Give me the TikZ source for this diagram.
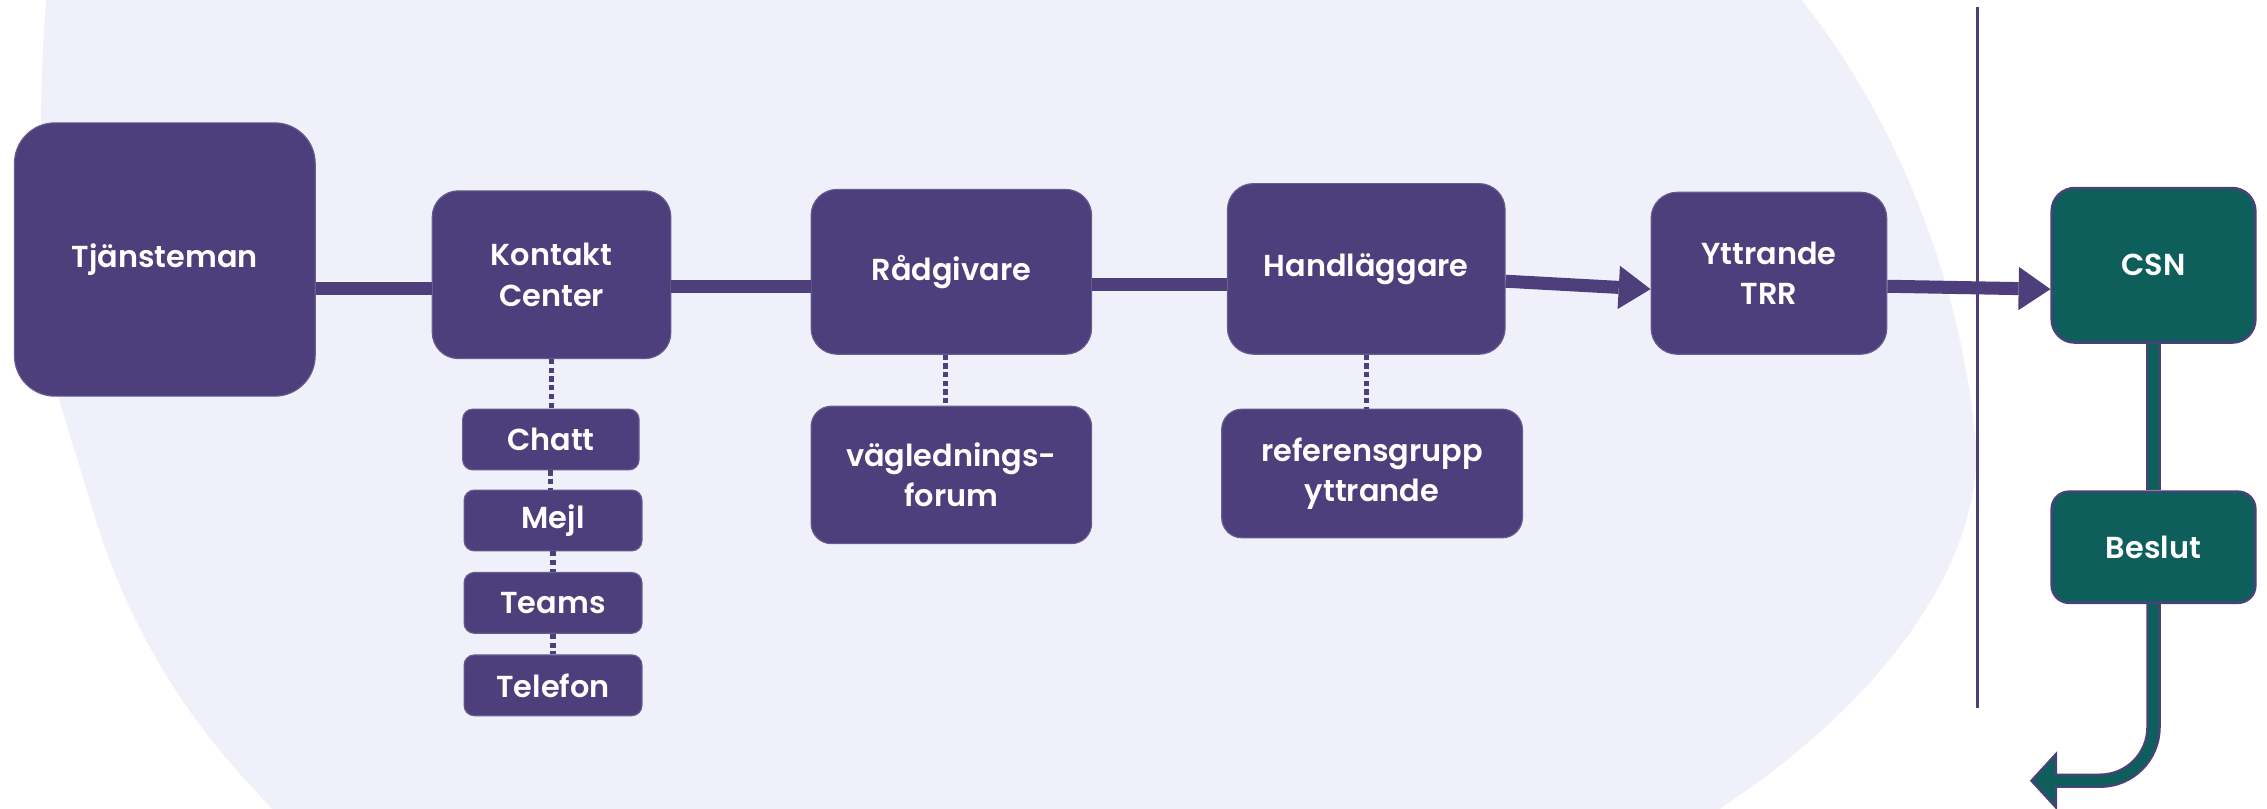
\documentclass[tikz,border=0pt]{standalone}
\usepackage{fontspec}
\setmainfont{Poppins SemiBold}
\usetikzlibrary{arrows.meta}
\definecolor{pur}{HTML}{4C3F7B}
\definecolor{blobc}{HTML}{F0F0FA}
\definecolor{grn}{HTML}{0E5F5B}
\begin{document}
\begin{tikzpicture}[x=1pt,y=-1pt,
  box/.style={fill=pur, draw=pur!85!white, line width=0.8pt, rounded corners=18pt,
    text=white, align=center, inner sep=0pt, font=\fontsize{21}{28}\selectfont},
  subbox/.style={box, rounded corners=7pt, minimum width=123pt, minimum height=42pt},
  gbox/.style={box, fill=grn, draw=pur, line width=1.6pt},
  conn/.style={draw=pur, line width=9pt},
  arr/.style={conn, -{Triangle[length=22pt,width=30pt,line width=0pt]}},
  dots/.style={draw=pur, line width=3.5pt, dash pattern=on 3.5pt off 2.5pt},
  gline/.style={draw=pur, line width=1.5pt, double=grn, double distance=7pt}
]
\useasboundingbox (0,0) rectangle (1568,559);
\clip (0,0) rectangle (1568,559);
% background blob
\fill[blobc] (32,-20) -- (32,0) .. controls (27,60) and (25,150) .. (41,277)
  -- (67,362) .. controls (95,450) and (140,510) .. (188,559)
  -- (188,600) -- (1190,600) -- (1190,559)
  .. controls (1310,480) and (1375,380) .. (1366,300)
  .. controls (1355,190) and (1310,80) .. (1246,0) -- (1246,-20) -- cycle;
% divider
\draw[pur, line width=2pt] (1368,5) -- (1368,490);
% main nodes
\node[box, minimum width=208pt, minimum height=189pt, rounded corners=28pt] (tj) at (114,179.5) {Tjänsteman};
\node[box, minimum width=165pt, minimum height=116pt] (kk) at (381.5,190) {Kontakt\\Center};
\node[box, minimum width=194pt, minimum height=114pt] (rad) at (658,188) {Rådgivare};
\node[box, minimum width=192pt, minimum height=118pt] (hand) at (945,186) {Handläggare};
\node[box, minimum width=163pt, minimum height=112pt] (ytt) at (1223.5,189) {Yttrande\\TRR};
\node[gbox, minimum width=141pt, minimum height=107pt, rounded corners=16pt] (csn) at (1489.5,183.5) {CSN};
\node[gbox, minimum width=141pt, minimum height=77pt, rounded corners=12pt] (bes) at (1489.5,378.5) {Beslut};
% sub nodes
\node[subbox, minimum width=122pt] (chatt) at (381,304) {Chatt};
\node[subbox] (mejl) at (382.5,360) {Mejl};
\node[subbox] (teams) at (382.5,417) {Teams};
\node[subbox] (tel) at (382.5,474) {Telefon};
\node[box, minimum width=194pt, minimum height=95pt, rounded corners=14pt] (vag) at (658,328.5) {väglednings-\\forum};
\node[box, minimum width=208pt, minimum height=89pt, rounded corners=14pt] (ref) at (949,327.5) {referensgrupp\\yttrande};
% connector levels
\coordinate (l1) at (0,199.5);
\coordinate (l2) at (0,198);
\coordinate (l3) at (0,197);
\coordinate (l4a) at (0,194.5);
\coordinate (l4b) at (0,200);
\coordinate (l5a) at (0,198);
\coordinate (l5b) at (0,200);
\draw[conn] (tj.east |- l1) -- (kk.west |- l1);
\draw[conn] (kk.east |- l2) -- (rad.west |- l2);
\draw[conn] (rad.east |- l3) -- (hand.west |- l3);
\draw[arr] (hand.east |- l4a) -- (ytt.west |- l4b);
\draw[arr] (ytt.east |- l5a) -- (csn.west |- l5b);
% dotted
\draw[dots] (kk.south) -- (kk.south |- chatt.north);
\draw[dots] (chatt.south) -- (chatt.south |- mejl.north);
\draw[dots] (mejl.south) -- (mejl.south |- teams.north);
\draw[dots] (teams.south) -- (teams.south |- tel.north);
\draw[dots] ([xshift=-4pt]rad.south) -- ([xshift=-4pt]rad.south |- vag.north);
\draw[dots] (hand.south) -- (hand.south |- ref.north);
% green connectors
\coordinate (gend) at (1422,540);
\draw[gline] (csn.south) -- (bes.north);
\draw[gline] (bes.south) -- (1489.5,503) arc[start angle=0, end angle=-90, radius=37pt] -- (gend);
\filldraw[fill=grn, draw=pur, line width=1.5pt, line join=miter]
  ([yshift=3.5pt]gend) -- ([yshift=18.5pt]gend) -- ([xshift=-17pt]gend) -- ([yshift=-18.5pt]gend) -- ([yshift=-3.5pt]gend);
\end{tikzpicture}
\end{document}
